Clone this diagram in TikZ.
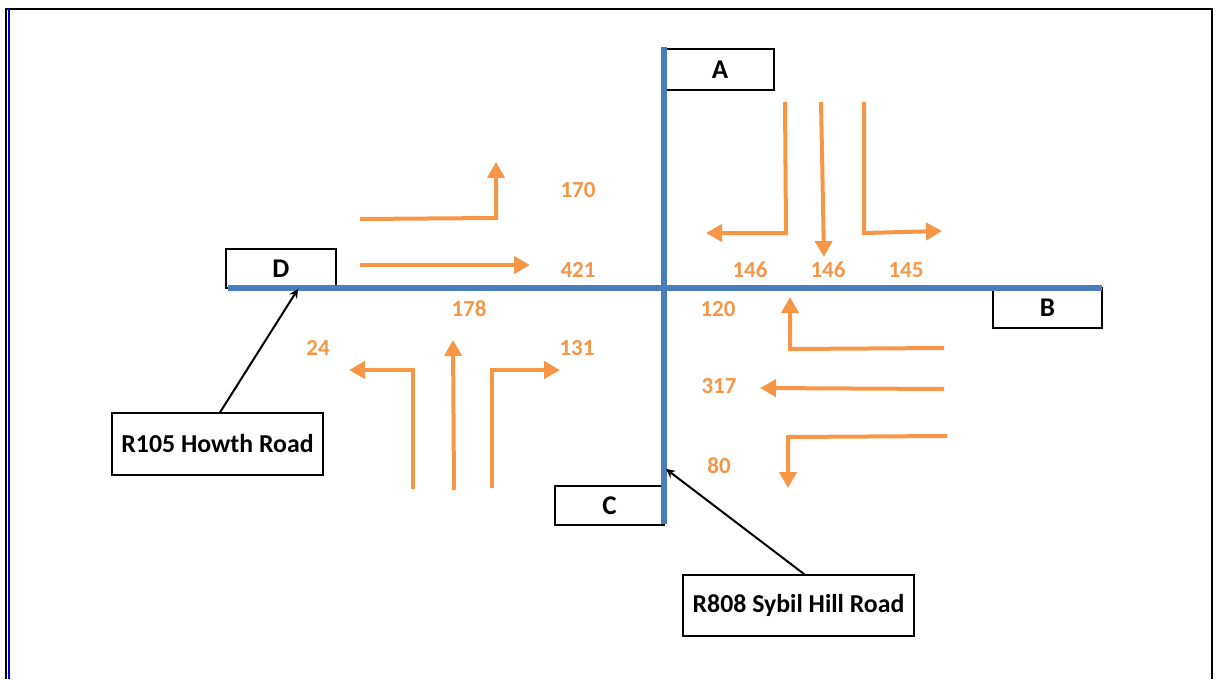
\documentclass[tikz,border=0pt]{standalone}
\usepackage{fontspec}
\setmainfont{Carlito}
\usetikzlibrary{arrows.meta, positioning}
\definecolor{roadblue}{HTML}{4A7EBB}
\definecolor{flow}{HTML}{F79646}
\tikzset{
	>=stealth,
	road/.style={draw=roadblue, line width=2.6pt},
	move/.style={draw=flow, line width=2pt, -{Triangle[length=8pt,width=8.5pt]}},
	armbox/.style={draw, line width=0.9pt, inner sep=0pt, font=\fontsize{13.5}{15}\selectfont\bfseries},
	namebox/.style={draw, line width=0.6pt, inner sep=0pt, font=\fontsize{12.9}{14}\selectfont\bfseries},
	cnt/.style={text=flow, font=\fontsize{11.5}{13}\selectfont\bfseries},
}
\begin{document}
\begin{tikzpicture}[x=0.5pt, y=-0.5pt]
\useasboundingbox (0,0) rectangle (1218,679);

% --- page frame ---
\draw[line width=1pt] (6,679) -- (6,9) -- (1212,9) -- (1212,679);
\draw[blue!85!black, line width=1pt] (8.7,9.5) -- (8.7,679);

% --- arm boxes ---
\node[armbox, minimum width=54pt, minimum height=20.5pt] (boxA) at (720,69.5) {A};
\node[armbox, minimum width=55pt, minimum height=19.5pt] (boxD) at (281,268.5) {D};
\node[armbox, minimum width=54.5pt, minimum height=20pt] (boxB) at (1047.5,308) {B};
\node[armbox, minimum width=54.5pt, minimum height=19.5pt] (boxC) at (609.5,505.5) {C};

% --- roads ---
\coordinate (nEnd) at (664,47);
\coordinate (sEnd) at (664,524);
\coordinate (wEnd) at (228,288);
\coordinate (eEnd) at (1102,288);
\draw[road] (nEnd) -- (sEnd);
\draw[road] (wEnd) -- (eEnd);

% --- road names ---
\node[namebox, minimum width=105.5pt, minimum height=31pt] (howth) at (217.5,444) {R105 Howth Road};
\node[namebox, minimum width=115.5pt, minimum height=30.5pt] (sybil) at (798.5,605.5) {R808 Sybil Hill Road};
\coordinate (howthPt) at (298,289);
\coordinate (sybilPt) at (666,469);
\draw[->, line width=1pt] (howth.north) ++(2.5,0) -- (howthPt);
\draw[->, line width=1pt] (sybil.north) ++(6,0) -- (sybilPt);

% --- D (west approach) ---
\draw[move] (360,219) -- (496,218) -- (496,162);
\draw[move] (360,265) -- (530,265);
\node[cnt] (n170) at (578,190) {170};
\node[cnt] (n421) at (578,270) {421};

% --- C (south approach) ---
\draw[move] (413,489) -- (413,370) -- (349,370);
\draw[move] (454,490) -- (453,340);
\draw[move] (492,488) -- (492,370) -- (560,370);
\node[cnt] (n24) at (318,348) {24};
\node[cnt] (n178) at (469,309) {178};
\node[cnt] (n131) at (577,348) {131};

% --- A (north approach) ---
\draw[move] (785,102) -- (786,233) -- (706,233);
\draw[move] (821,102) -- (824,257);
\draw[move] (864,102) -- (864,233) -- (942,231);
\node[cnt] (n146a) at (750,270) {146};
\node[cnt] (n146b) at (828,270) {146};
\node[cnt] (n145) at (906,270) {145};

% --- B (east approach) ---
\draw[move] (944,348) -- (790,349) -- (790,297);
\draw[move] (944,389) -- (760,388);
\draw[move] (947,436) -- (788,437) -- (788,488);
\node[cnt] (n120) at (718,309) {120};
\node[cnt] (n317) at (719,386) {317};
\node[cnt] (n80) at (719,466) {80};
\end{tikzpicture}
\end{document}
